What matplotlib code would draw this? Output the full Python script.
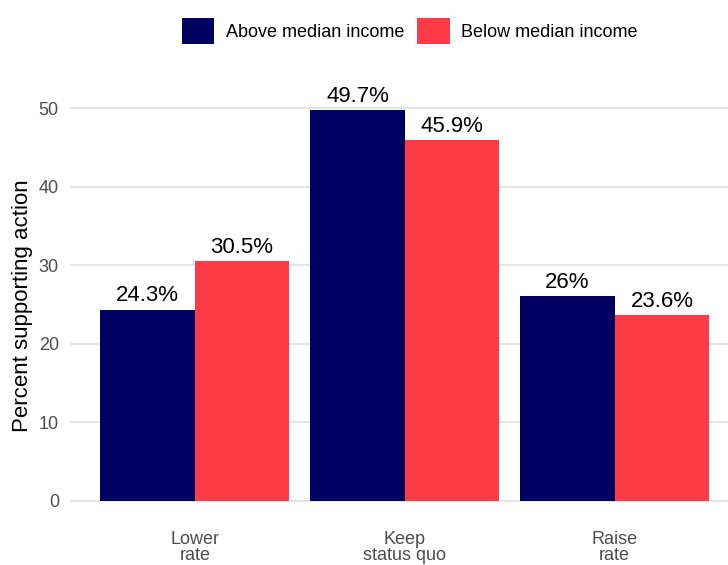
import numpy as np
import matplotlib
matplotlib.use("Agg")
import matplotlib.pyplot as plt
from matplotlib.patches import Patch

plt.rcParams['font.family'] = ['Liberation Sans', 'DejaVu Sans']

# data
categories = ["Lower\nrate", "Keep\nstatus quo", "Raise\nrate"]
above = [24.3, 49.7, 26.0]
below = [30.5, 45.9, 23.6]
above_labels = ["24.3%", "49.7%", "26%"]
below_labels = ["30.5%", "45.9%", "23.6%"]
series_names = ["Above median income", "Below median income"]
colors = ["#000060", "#FF3B47"]

fig = plt.figure(figsize=(7.28, 5.65), dpi=100)
ax = fig.add_axes([70/728, 1 - 520/565, 658/728, (520 - 91)/565])

x = np.arange(1, len(categories) + 1)
w = 0.45
ax.bar(x - w/2, above, width=w, color=colors[0], zorder=2)
ax.bar(x + w/2, below, width=w, color=colors[1], zorder=2)

for xi, v, lab in zip(x - w/2, above, above_labels):
    ax.annotate(lab, (xi, v), xytext=(0, 2.5), textcoords="offset points",
                ha="center", va="bottom", fontsize=16, color="black")
for xi, v, lab in zip(x + w/2, below, below_labels):
    ax.annotate(lab, (xi, v), xytext=(0, 2.5), textcoords="offset points",
                ha="center", va="bottom", fontsize=16, color="black")

ax.set_xlim(0.405, 3.54)
ax.set_ylim(-2.485, 52.185)
ax.set_yticks([0, 10, 20, 30, 40, 50])
ax.set_xticks(x)
ax.set_xticklabels(categories, linespacing=0.9)
ax.tick_params(axis="both", length=0, labelsize=13, labelcolor="#4d4d4d")
ax.tick_params(axis="x", pad=8)
ax.tick_params(axis="y", pad=8)
ax.grid(axis="y", color="#e5e5e5", linewidth=1.4, zorder=0)
ax.set_axisbelow(True)
for s in ax.spines.values():
    s.set_visible(False)
ax.set_ylabel("Percent supporting action", fontsize=16, color="black", labelpad=4)

handles = [Patch(facecolor=c, edgecolor="none") for c in colors]
fig.legend(handles, series_names, loc="center", bbox_to_anchor=(0.563, 0.945),
           ncol=2, frameon=False, fontsize=13, handlelength=1.8, handleheight=1.8,
           handletextpad=0.65, columnspacing=0.7)

fig.savefig("out.png", dpi=100)
